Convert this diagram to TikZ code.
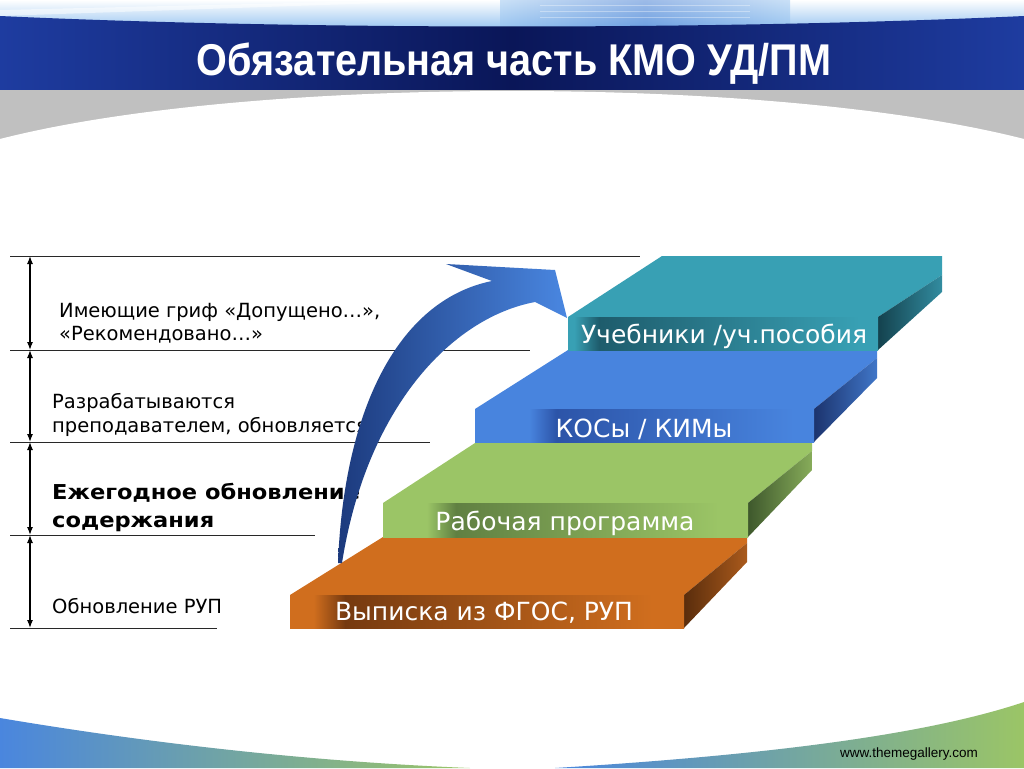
\documentclass[tikz,border=0pt]{standalone}
\usepackage{fontspec}
\setmainfont{DejaVu Sans}
\newfontfamily\titlefont{Liberation Sans}
\usetikzlibrary{arrows.meta}
\definecolor{bandEdge}{RGB}{30,60,160}
\definecolor{bandMid}{RGB}{10,22,88}
\definecolor{hdrLight}{RGB}{150,195,240}
\definecolor{hdrPat}{RGB}{60,120,210}
\definecolor{grayband}{RGB}{192,192,192}
\definecolor{lineGray}{RGB}{40,40,40}
\definecolor{bBlue}{RGB}{74,134,222}
\definecolor{bGreen}{RGB}{155,197,102}
% orange slab
\definecolor{oL}{RGB}{208,110,30}
\definecolor{oD}{RGB}{118,58,16}
\definecolor{oSd}{RGB}{90,45,12}
\definecolor{oSl}{RGB}{170,90,28}
% green slab
\definecolor{gL}{RGB}{155,197,102}
\definecolor{gD}{RGB}{96,128,66}
\definecolor{gSd}{RGB}{62,88,44}
\definecolor{gSl}{RGB}{135,172,90}
% blue slab
\definecolor{bL}{RGB}{72,132,222}
\definecolor{bD}{RGB}{44,84,168}
\definecolor{bSd}{RGB}{28,52,110}
\definecolor{bSl}{RGB}{64,118,200}
% teal slab
\definecolor{tL}{RGB}{56,160,180}
\definecolor{tD}{RGB}{30,92,108}
\definecolor{tSd}{RGB}{20,66,78}
\definecolor{tSl}{RGB}{50,140,160}
% arrow
\definecolor{arrDark}{RGB}{28,58,125}
\definecolor{arrLight}{RGB}{74,135,225}
\pgfdeclarehorizontalshading{frontO}{100bp}{color(0bp)=(oL); color(28bp)=(oL); color(32bp)=(oD); color(71bp)=(oL); color(100bp)=(oL)}
\pgfdeclarehorizontalshading{frontG}{100bp}{color(0bp)=(gL); color(31bp)=(gL); color(35bp)=(gD); color(71bp)=(gL); color(100bp)=(gL)}
\pgfdeclarehorizontalshading{frontB}{100bp}{color(0bp)=(bL); color(33bp)=(bL); color(37bp)=(bD); color(72bp)=(bL); color(100bp)=(bL)}
\pgfdeclarehorizontalshading{frontT}{100bp}{color(0bp)=(tL); color(26bp)=(tL); color(30bp)=(tD); color(72bp)=(tL); color(100bp)=(tL)}
\tikzset{
  hline/.style={draw=lineGray, line width=1pt},
  dimarrow/.style={draw=black, line width=1.2pt, {Latex[length=8pt,width=6pt]}-{Latex[length=8pt,width=6pt]}},
  lefttext/.style={anchor=base west, inner sep=0pt, font=\fontsize{19.5}{23}\selectfont, text=black},
  leftbold/.style={lefttext, font=\fontsize{20.5}{23}\selectfont\bfseries},
  steptext/.style={anchor=base, inner sep=0pt, font=\fontsize{25}{28}\selectfont, text=white},
}
\begin{document}
\begin{tikzpicture}[x=1pt,y=-1pt]
\useasboundingbox (0,0) rectangle (1024,768);
\fill[white] (0,0) rectangle (1024,768);
% ---------- header ----------
\shade[top color=white, bottom color=hdrLight] (0,0) rectangle (1024,30);
\shade[left color=hdrLight, right color=hdrLight, middle color=hdrPat, opacity=0.5] (500,0) rectangle (790,28);
\foreach \yy in {5,11,17}{\draw[white, opacity=0.35, line width=0.7pt] (540,\yy) -- (750,\yy);}
\fill[white, opacity=0.5] (0,10) -- (420,0) -- (470,0) -- (0,16) -- cycle;
\shade[left color=bandEdge, right color=bandEdge, middle color=bandMid]
  (0,16) .. controls (300,30) and (724,30) .. (1024,16) -- (1024,90) -- (0,90) -- cycle;
\fill[grayband] (0,90) rectangle (1024,146);
\fill[white] (0,139) .. controls (250,75) and (774,75) .. (1024,139) -- (1024,148) -- (0,148) -- cycle;
\node[anchor=base, inner sep=0pt, text=white] (title) at (514,75)
  {\titlefont\bfseries\fontsize{44.5}{44.5}\selectfont\scalebox{0.89}[1]{Обязательная часть КМО УД/ПМ}};
% ---------- footer ----------
\shade[left color=bBlue, right color=bGreen] (0,718) .. controls (160,745) and (320,762) .. (470,768) -- (0,768) -- cycle;
\shade[left color=bBlue, right color=bGreen] (555,768) .. controls (750,756) and (920,737) .. (1024,702) -- (1024,768) -- cycle;
\node[anchor=base east, inner sep=0pt] (url) at (978,757)
  {\titlefont\fontsize{13.5}{14}\selectfont www.themegallery.com};
% ---------- left scale ----------
\coordinate (a1) at (10,256); \coordinate (b1) at (640,256);
\coordinate (a2) at (10,350); \coordinate (b2) at (530,350);
\coordinate (a3) at (10,442); \coordinate (b3) at (430,442);
\coordinate (a4) at (10,535); \coordinate (b4) at (315,535);
\coordinate (a5) at (10,628); \coordinate (b5) at (217,628);
\foreach \i in {1,...,5}{\draw[hline] (a\i) -- (b\i);}
\coordinate (v1) at (30,256); \coordinate (v2) at (30,350);
\coordinate (v3) at (30,442); \coordinate (v4) at (30,535);
\coordinate (v5) at (30,628);
\draw[dimarrow] (v1) -- (v2);
\draw[dimarrow] (v2) -- (v3);
\draw[dimarrow] (v3) -- (v4);
\draw[dimarrow] (v4) -- (v5);
\node[lefttext] (t1a) at (59,317) {Имеющие гриф «Допущено…»,};
\node[lefttext] (t1b) at (59,340) {«Рекомендовано…»};
\node[lefttext] (t2a) at (52,408) {Разрабатываются};
\node[lefttext] (t2b) at (52,432) {преподавателем, обновляется};
\node[leftbold] (t3a) at (52,499) {\scalebox{1.1}[1]{Ежегодное обновление}};
\node[leftbold] (t3b) at (52,527) {\scalebox{1.1}[1]{содержания}};
\node[lefttext] (t4) at (52,613) {Обновление РУП};
% ---------- slabs ----------
% orange
\fill[oL] (290,595) -- (383,537) -- (747,537) -- (747,543) -- (684,595) -- cycle;
\shade[left color=oSd, right color=oSl] (684,595) -- (747,543) -- (747,562) -- (684,628) -- cycle;
\shade[shading=frontO] (290,595) rectangle (684,628);
\node[steptext] (s1) at (484,620) {Выписка из ФГОС, РУП};
% green
\fill[gL] (383,503) -- (475,443) -- (812,443) -- (812,451) -- (748,503) -- cycle;
\shade[left color=gSd, right color=gSl] (748,503) -- (812,451) -- (812,470) -- (748,537) -- cycle;
\shade[shading=frontG] (383,503) rectangle (748,537);
\node[steptext] (s2) at (565,530) {Рабочая программа};
% blue
\fill[bL] (475,409) -- (568,350) -- (877,350) -- (877,358) -- (814,409) -- cycle;
\shade[left color=bSd, right color=bSl] (814,409) -- (877,358) -- (877,378) -- (814,442) -- cycle;
\shade[shading=frontB] (475,409) rectangle (814,442);
\node[steptext] (s3) at (644,437) {КОСы / КИМы};
% teal
\fill[tL] (568,317) -- (662,256) -- (942,256) -- (942,275) -- (878,317) -- cycle;
\shade[left color=tSd, right color=tSl] (878,317) -- (942,275) -- (942,292) -- (878,350) -- cycle;
\shade[shading=frontT] (568,317) rectangle (878,350);
\node[steptext] (s4) at (724,343) {Учебники /уч.пособия};
% ---------- curved arrow ----------
\shade[left color=arrDark, right color=arrLight]
  (338,563) .. controls (344,410) and (398,300) .. (492,281)
  -- (446,264) -- (555,270) -- (567,318) -- (535,302)
  .. controls (450,318) and (366,410) .. (342,563) -- cycle;
\end{tikzpicture}
\end{document}
